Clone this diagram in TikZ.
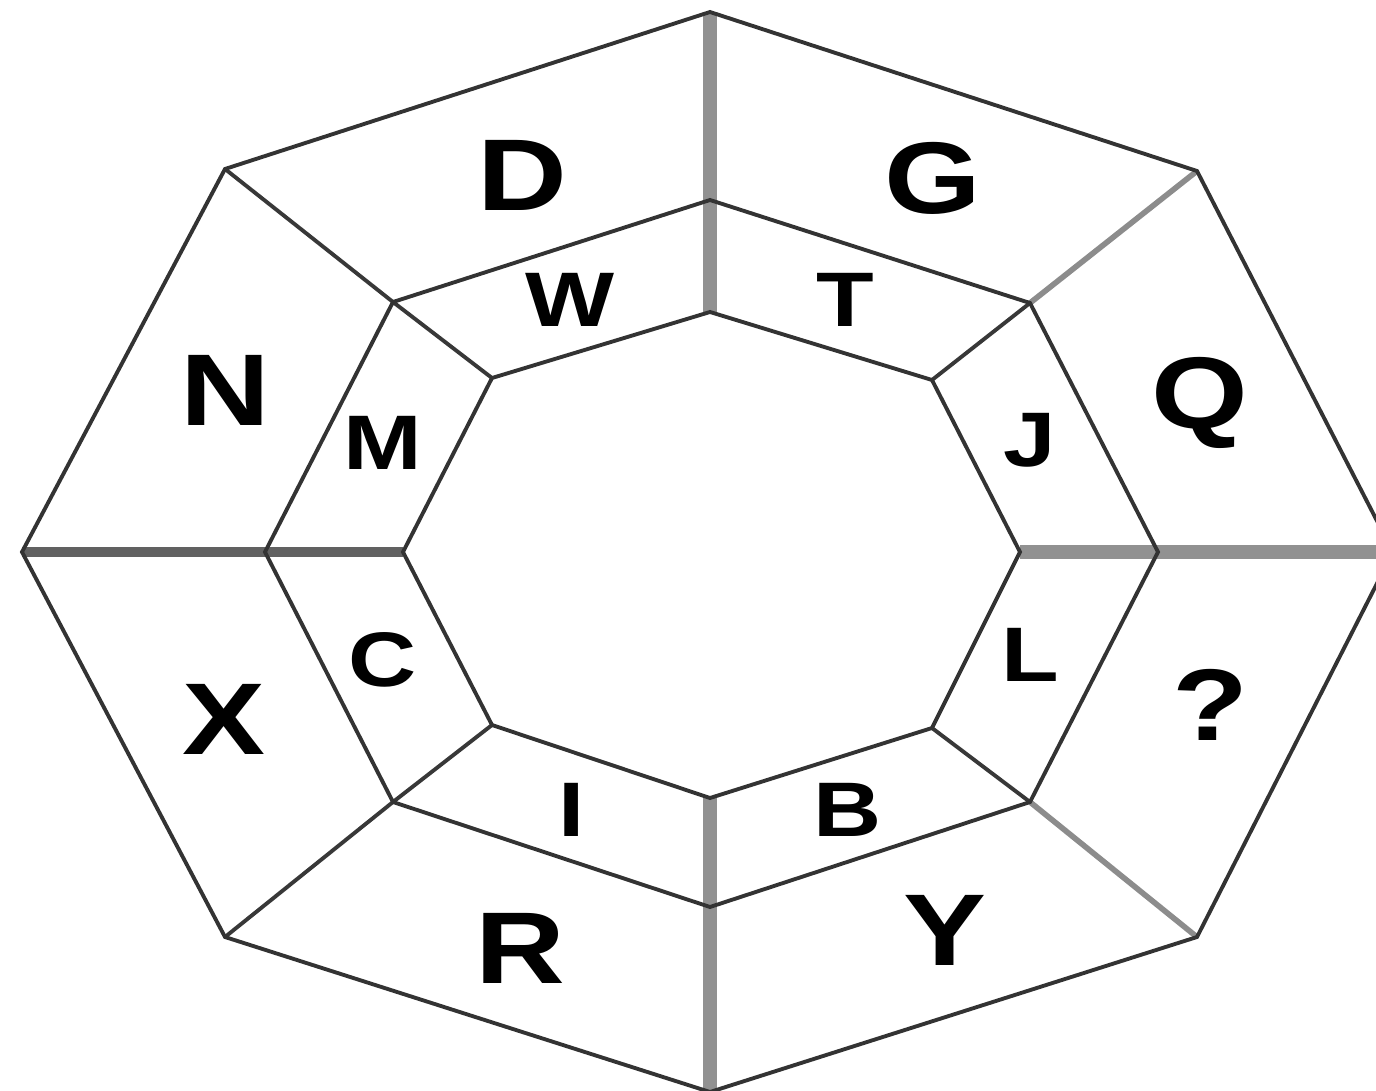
\documentclass[tikz,border=0pt]{standalone}
\usepackage{fontspec}
\setmainfont{Liberation Sans}
\usepackage{tikz}
\usetikzlibrary{positioning, calc}

\begin{document}
\begin{tikzpicture}[
  edge/.style={draw=black!80, line width=1.1pt, line join=miter},
  spoke/.style={draw=black!78, line width=1.1pt},
  greyspoke/.style={draw=black!45, line width=1.6pt},
  axis/.style={draw=black!43, line width=3.8pt},
  leftaxis/.style={draw=black!62, line width=3pt},
  outer/.style={font=\fontsize{29}{30}\selectfont\bfseries, inner sep=0pt, xscale=1.22},
  inner/.style={font=\fontsize{22}{23}\selectfont\bfseries, inner sep=0pt, xscale=1.22}
]
\useasboundingbox (0,0) rectangle (13.76,10.90);
\clip (0,0) rectangle (13.76,10.90);

% outer ring
\coordinate (o1) at (7.10,10.78);
\coordinate (o2) at (11.97,9.19);
\coordinate (o3) at (13.93,5.38);
\coordinate (o4) at (11.97,1.53);
\coordinate (o5) at (7.10,-0.02);
\coordinate (o6) at (2.25,1.53);
\coordinate (o7) at (0.22,5.38);
\coordinate (o8) at (2.25,9.21);
% middle ring
\coordinate (m1) at (7.10,8.90);
\coordinate (m2) at (10.30,7.87);
\coordinate (m3) at (11.58,5.38);
\coordinate (m4) at (10.30,2.88);
\coordinate (m5) at (7.10,1.83);
\coordinate (m6) at (3.93,2.88);
\coordinate (m7) at (2.65,5.38);
\coordinate (m8) at (3.93,7.88);
% inner ring
\coordinate (i1) at (7.10,7.78);
\coordinate (i2) at (9.32,7.10);
\coordinate (i3) at (10.20,5.38);
\coordinate (i4) at (9.32,3.62);
\coordinate (i5) at (7.10,2.92);
\coordinate (i6) at (4.92,3.65);
\coordinate (i7) at (4.03,5.38);
\coordinate (i8) at (4.92,7.12);

% spokes
\draw[axis] (i1) -- (m1) -- (o1);
\draw[axis] (i5) -- (m5) -- (o5);
\draw[axis] (i3) -- (m3) -- (o3);
\draw[leftaxis] (i7) -- (m7) -- (o7);
\draw[spoke] (i2) -- (m2);
\draw[greyspoke] (m2) -- (o2);
\draw[spoke] (i4) -- (m4);
\draw[greyspoke] (m4) -- (o4);
\draw[spoke] (i6) -- (m6) -- (o6);
\draw[spoke] (i8) -- (m8) -- (o8);

% octagons
\draw[edge] (o1) -- (o2) -- (o3) -- (o4) -- (o5) -- (o6) -- (o7) -- (o8) -- cycle;
\draw[edge] (m1) -- (m2) -- (m3) -- (m4) -- (m5) -- (m6) -- (m7) -- (m8) -- cycle;
\draw[edge] (i1) -- (i2) -- (i3) -- (i4) -- (i5) -- (i6) -- (i7) -- (i8) -- cycle;

% outer letters
\node[outer] (lD) at (5.22,9.15) {D};
\node[outer] (lG) at (9.33,9.12) {G};
\node[outer] (lQ) at (12.00,6.87) {Q};
\node[outer] (lq) at (12.10,3.85) {?};
\node[outer] (lY) at (9.45,1.60) {Y};
\node[outer] (lR) at (5.20,1.42) {R};
\node[outer] (lX) at (2.24,3.71) {X};
\node[outer] (lN) at (2.25,7.00) {N};

% inner letters
\node[inner] (lW) at (5.70,7.90) {W};
\node[inner] (lT) at (8.45,7.90) {T};
\node[inner] (lJ) at (10.30,6.50) {J};
\node[inner] (lL) at (10.30,4.35) {L};
\node[inner] (lB) at (8.48,2.80) {B};
\node[inner] (lI) at (5.72,2.80) {I};
\node[inner] (lC) at (3.83,4.30) {C};
\node[inner] (lM) at (3.83,6.47) {M};
\end{tikzpicture}
\end{document}
